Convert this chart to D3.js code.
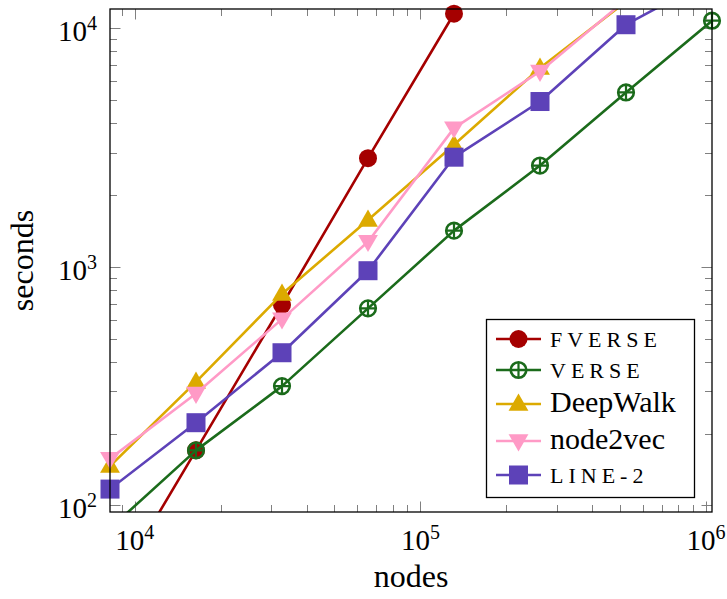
<!DOCTYPE html>
<html>
<head>
<meta charset="utf-8">
<script src="https://cdn.jsdelivr.net/npm/d3@7"></script>
<style>
    body { margin: 0; background: #fff; }
    svg { display: block; font-family: "Liberation Serif", "DejaVu Serif", serif; }
</style>
</head>
<body>
<svg id="chart"></svg>
<script>
// Graph sizes (number of nodes) and running times in seconds
const nodeCounts = [8192, 16384, 32768, 65536, 131072, 262144, 524288, 1048576];
const fverseTimes = [42, 170, 691, 2849, 11480];
const verseTimes = [80, 170, 316, 669, 1416, 2653, 5370, 10730];
const deepwalkTimes = [146, 329, 768, 1570, 3240, 6796, 12900];
const node2vecTimes = [157, 294, 603, 1273, 3806, 6577, 13130];
const line2Times = [117, 222, 436, 962, 2876, 4921, 10323, 16180];

const seriesNames = ["FVERSE", "VERSE", "DeepWalk", "node2vec", "LINE-2"];
const smallCaps = [true, true, false, false, true];
const seriesColors = ["#a50000", "#1b6b1b", "#dcaa00", "#ff9ac6", "#5d42b8"];
const seriesMarks = ["circle", "oplus", "triangle", "triangleDown", "square"];
const xTickValues = [1e4, 1e5, 1e6];
const yTickValues = [1e2, 1e3, 1e4];

const width = 727;
const height = 599;
const margin = {left: 110, right: 15, top: 9, bottom: 87};

const svg = d3.select("#chart")
    .attr("width", width)
    .attr("height", height);

const x = d3.scaleLog()
    .domain([8192, 1048576])
    .range([margin.left, width - margin.right]);

const y = d3.scaleLog()
    .domain([93.8, 12014])
    .range([height - margin.bottom, margin.top]);

const x0 = x.range()[0], x1 = x.range()[1];
const y0 = y.range()[0], y1 = y.range()[1];

svg.append("defs").append("clipPath")
    .attr("id", "plot-clip")
    .append("rect")
    .attr("x", x0).attr("y", y1)
    .attr("width", x1 - x0).attr("height", y0 - y1);

// Minor and major ticks, drawn inside on all four sides
function minorTicks(domain) {
    let result = [];
    for (let e = -1; e <= 7; e++) {
        for (let m = 2; m <= 9; m++) {
            let v = m * Math.pow(10, e);
            if (v >= domain[0] && v <= domain[1]) result.push(v);
        }
    }
    return result;
}

const tickGroup = svg.append("g")
    .attr("stroke", "#808080")
    .attr("stroke-width", 1);

const majorLen = 10.5, minorLen = 7;

[[xTickValues, majorLen], [minorTicks(x.domain()), minorLen]].forEach(function ([values, len]) {
    values.forEach(function (v) {
        let px = Math.round(x(v)) + 0.5;
        tickGroup.append("line").attr("x1", px).attr("x2", px).attr("y1", y0).attr("y2", y0 - len);
        tickGroup.append("line").attr("x1", px).attr("x2", px).attr("y1", y1).attr("y2", y1 + len);
    });
});

[[yTickValues, majorLen], [minorTicks(y.domain()), minorLen]].forEach(function ([values, len]) {
    values.forEach(function (v) {
        let py = Math.round(y(v)) + 0.5;
        tickGroup.append("line").attr("y1", py).attr("y2", py).attr("x1", x0).attr("x2", x0 + len);
        tickGroup.append("line").attr("y1", py).attr("y2", py).attr("x1", x1).attr("x2", x1 - len);
    });
});

// Tick labels as 10^k
function powerLabel(sel, v) {
    let exp = Math.round(Math.log10(v));
    sel.append("tspan").text("10");
    sel.append("tspan")
        .attr("font-size", 20)
        .attr("dy", -11)
        .text(exp);
}

xTickValues.forEach(function (v) {
    let t = svg.append("text")
        .attr("x", x(v))
        .attr("y", y0 + 38)
        .attr("text-anchor", "middle")
        .attr("font-size", 29)
        .attr("fill", "#000");
    powerLabel(t, v);
});

yTickValues.forEach(function (v) {
    let t = svg.append("text")
        .attr("x", x0 - 13)
        .attr("y", y(v) + 13)
        .attr("text-anchor", "end")
        .attr("font-size", 29)
        .attr("fill", "#000");
    powerLabel(t, v);
});

// Axis titles
svg.append("text")
    .attr("x", (x0 + x1) / 2)
    .attr("y", 587)
    .attr("text-anchor", "middle")
    .attr("font-size", 32)
    .text("nodes");

svg.append("text")
    .attr("transform", "translate(33," + ((y0 + y1) / 2) + ") rotate(-90)")
    .attr("text-anchor", "middle")
    .attr("font-size", 32)
    .text("seconds");

// Marker drawing
function drawMark(g, kind, cx, cy, color) {
    if (kind === "circle") {
        g.append("circle").attr("cx", cx).attr("cy", cy).attr("r", 9).attr("fill", color);
    } else if (kind === "oplus") {
        g.append("circle").attr("cx", cx).attr("cy", cy).attr("r", 7.8)
            .attr("fill", "none").attr("stroke", color).attr("stroke-width", 2.6);
        g.append("path")
            .attr("d", "M" + (cx - 7.8) + "," + cy + "H" + (cx + 7.8) + "M" + cx + "," + (cy - 7.8) + "V" + (cy + 7.8))
            .attr("stroke", color).attr("stroke-width", 2.2);
    } else if (kind === "triangle") {
        g.append("path")
            .attr("d", d3.symbol(d3.symbolTriangle, 170)())
            .attr("transform", "translate(" + cx + "," + (cy + 1) + ")")
            .attr("fill", color);
    } else if (kind === "triangleDown") {
        g.append("path")
            .attr("d", d3.symbol(d3.symbolTriangle, 170)())
            .attr("transform", "translate(" + cx + "," + (cy - 1) + ") rotate(180)")
            .attr("fill", color);
    } else if (kind === "square") {
        g.append("rect").attr("x", cx - 9.5).attr("y", cy - 9.5)
            .attr("width", 19).attr("height", 19).attr("fill", color);
    }
}

const allTimes = [fverseTimes, verseTimes, deepwalkTimes, node2vecTimes, line2Times];

const line = d3.line()
    .x(function (d) { return x(d[0]); })
    .y(function (d) { return y(d[1]); });

const plotGroup = svg.append("g");

allTimes.forEach(function (times, i) {
    let points = times.map(function (t, j) { return [nodeCounts[j], t]; });
    plotGroup.append("path")
        .datum(points)
        .attr("clip-path", "url(#plot-clip)")
        .attr("fill", "none")
        .attr("stroke", seriesColors[i])
        .attr("stroke-width", 2.6)
        .attr("stroke-linejoin", "round")
        .attr("d", line);

    let markGroup = plotGroup.append("g");
    points.forEach(function (p) {
        // points outside the axis range get no marker
        if (p[1] < y.domain()[0] || p[1] > y.domain()[1]) return;
        drawMark(markGroup, seriesMarks[i], x(p[0]), y(p[1]), seriesColors[i]);
    });
});

// Axis frame
svg.append("rect")
    .attr("x", x0).attr("y", y1)
    .attr("width", x1 - x0).attr("height", y0 - y1)
    .attr("fill", "none")
    .attr("stroke", "#000")
    .attr("stroke-width", 1.3);

// Legend
const legendBox = {x: 486, y: 319, w: 208, h: 178};
const legendRows = [20, 51, 85, 122, 156];

const legend = svg.append("g");
legend.append("rect")
    .attr("x", legendBox.x + 0.5).attr("y", legendBox.y + 0.5)
    .attr("width", legendBox.w).attr("height", legendBox.h)
    .attr("fill", "#fff")
    .attr("stroke", "#000")
    .attr("stroke-width", 1.3);

seriesNames.forEach(function (name, i) {
    let cy = legendBox.y + legendRows[i];
    legend.append("line")
        .attr("x1", legendBox.x + 10).attr("x2", legendBox.x + 55)
        .attr("y1", cy).attr("y2", cy)
        .attr("stroke", seriesColors[i])
        .attr("stroke-width", 2.6);
    drawMark(legend, seriesMarks[i], legendBox.x + 32.5, cy, seriesColors[i]);

    let label = legend.append("text")
        .attr("x", legendBox.x + 64)
        .attr("y", cy + 8)
        .attr("fill", "#000")
        .text(name);
    if (smallCaps[i]) {
        label.attr("font-size", 22).attr("letter-spacing", 5);
    } else {
        label.attr("font-size", 30);
    }
});
</script>
</body>
</html>
